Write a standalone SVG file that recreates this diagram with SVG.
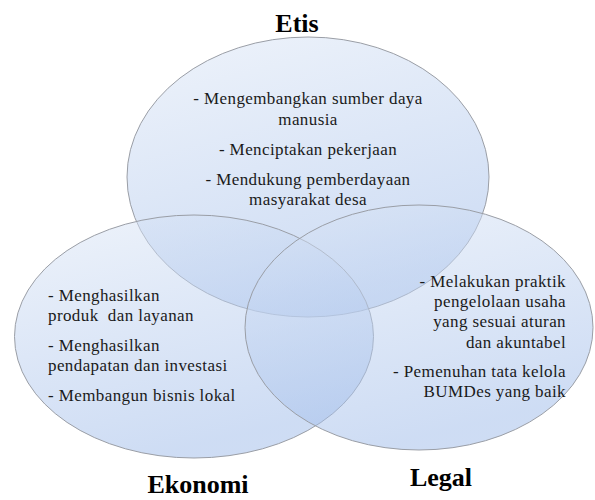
<svg xmlns="http://www.w3.org/2000/svg" width="595" height="500" viewBox="0 0 595 500">
<defs>
<linearGradient id="g" x1="0" y1="0" x2="0.35" y2="1">
<stop offset="0" stop-color="#dde7f6"/>
<stop offset="1" stop-color="#9dbae9"/>
</linearGradient>
<style>
.c{fill:url(#g);fill-opacity:0.5;stroke:#9a9ea6;stroke-width:1}
.t{font-family:"Liberation Serif","Times New Roman",serif;font-size:17px;letter-spacing:0.4px;fill:#1a1a1a}
.h{font-family:"Liberation Serif","Times New Roman",serif;font-size:26px;font-weight:bold;fill:#000}
</style>
</defs>
<rect width="595" height="500" fill="#fff"/>
<g id="connectors"/>
<g id="etis">
<ellipse class="c" cx="308" cy="177" rx="181" ry="140"/>
</g>
<g id="ekonomi">
<ellipse class="c" cx="194" cy="336.5" rx="179.5" ry="121.5"/>
</g>
<g id="legal">
<ellipse class="c" cx="419" cy="327.5" rx="174" ry="122.5"/>
</g>
<g id="labels-etis" text-anchor="middle">
<text class="h" x="297" y="32">Etis</text>
<text class="t" x="308" y="104">- Mengembangkan sumber daya</text>
<text class="t" x="308" y="125">manusia</text>
<text class="t" x="308" y="155">- Menciptakan pekerjaan</text>
<text class="t" x="308" y="185">- Mendukung pemberdayaan</text>
<text class="t" x="308" y="205">masyarakat desa</text>
</g>
<g id="labels-ekonomi">
<text class="h" x="198" y="493" text-anchor="middle">Ekonomi</text>
<text class="t" x="48" y="301">- Menghasilkan</text>
<text class="t" x="48" y="321">produk&#160; dan layanan</text>
<text class="t" x="48" y="351">- Menghasilkan</text>
<text class="t" x="48" y="371">pendapatan dan investasi</text>
<text class="t" x="48" y="401">- Membangun bisnis lokal</text>
</g>
<g id="labels-legal" text-anchor="end">
<text class="h" x="472" y="486">Legal</text>
<text class="t" x="566" y="287">- Melakukan praktik</text>
<text class="t" x="566" y="307">pengelolaan usaha</text>
<text class="t" x="566" y="327">yang sesuai aturan</text>
<text class="t" x="566" y="348">dan akuntabel</text>
<text class="t" x="566" y="377">- Pemenuhan tata kelola</text>
<text class="t" x="566" y="397">BUMDes yang baik</text>
</g>
</svg>
